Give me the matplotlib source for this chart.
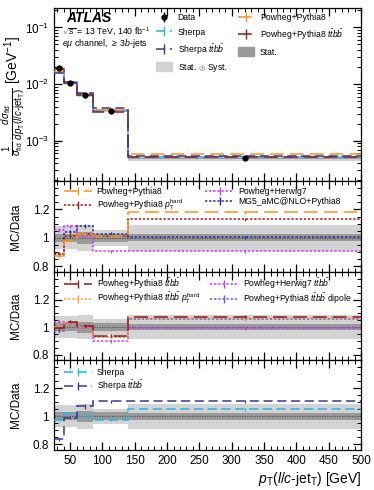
import numpy as np
import matplotlib
matplotlib.use('Agg')
import matplotlib.pyplot as plt
from matplotlib.lines import Line2D
from matplotlib.patches import Patch
from matplotlib.legend_handler import HandlerTuple
from matplotlib.ticker import MultipleLocator, LogLocator, NullFormatter

plt.rcParams.update({
    'font.family': 'Liberation Sans',
    'mathtext.fontset': 'custom',
    'mathtext.rm': 'Liberation Sans',
    'mathtext.it': 'Liberation Sans:italic',
    'mathtext.bf': 'Liberation Sans:bold',
    'font.size': 8,
    'axes.linewidth': 0.9,
})

# ---- data ----
edges = [25, 40, 60, 85, 140, 500]
data = [0.0190, 0.0106, 0.0065, 0.0034, 0.00049]
stat_rel = [0.03, 0.03, 0.04, 0.03, 0.025]
tot_rel = [0.08, 0.08, 0.09, 0.055, 0.09]

# MC/Data ratios
pp8 = [0.87, 0.98, 1.03, 1.01, 1.18]
pp8_hard = [0.89, 1.01, 1.03, 1.01, 1.13]
ph7 = [1.055, 1.08, 1.01, 0.905, 0.905]
mg5 = [0.89, 1.04, 1.085, 1.03, 1.005]

pp8_ttbb = [0.99, 1.04, 1.005, 0.935, 1.075]
pp8_ttbb_hard = [1.00, 1.03, 1.00, 0.93, 1.065]
ph7_ttbb = [1.04, 1.03, 1.00, 0.895, 0.99]
pp8_ttbb_dip = [0.97, 1.03, 1.01, 0.93, 1.06]

sherpa = [0.975, 1.02, 1.005, 0.975, 1.05]
sherpa_ttbb = [0.835, 0.99, 1.07, 1.105, 1.105]

mc_err = [0.012, 0.012, 0.014, 0.012, 0.01]

C_ORANGE = '#f7941d'
C_DRED = '#8b1a1a'
C_DRED2 = '#9b1b1b'
C_MAG = '#cc33ff'
C_NAVY = '#2b2b9c'
C_LBLUE = '#22b5ee'
C_SLATE = '#3f3593'
C_DIP = '#6a5acd'
C_ORANGE2 = '#ffa033'
C_LIGHT = '#d3d3d3'
C_DARK = '#9a9a9a'

LONG = (0, (9, 4))
DASH = (0, (6, 3))
DOT = (0, (1.5, 1.2))

edges_a = np.array(edges, float)
centers = 0.5 * (edges_a[:-1] + edges_a[1:])
data_a = np.array(data)
stat_a = np.array(stat_rel)
tot_a = np.array(tot_rel)

W, H = 374, 490
fig = plt.figure(figsize=(W / 100, H / 100), dpi=100)


def px_axes(top, bottom, left=54, right=361):
    return fig.add_axes([left / W, (H - bottom) / H, (right - left) / W, (bottom - top) / H])


ax0 = px_axes(8, 181)
ax1 = px_axes(181, 272)
ax2 = px_axes(272, 360)
ax3 = px_axes(360, 450)

TUP = {tuple: HandlerTuple(ndivide=1, pad=0)}


def mc_line(ax, vals, color, ls, lw=1.1, scale=None):
    v = np.array(vals)
    if scale is not None:
        v = v * scale
    ax.stairs(v, edges_a, baseline=None, color=color, linestyle=ls, linewidth=lw, zorder=3)
    err = np.array(mc_err) * v
    ax.errorbar(centers, v, yerr=err, fmt='none', ecolor=color, elinewidth=0.9, zorder=3)


def handle(color, ls, ms=6):
    return (Line2D([], [], color=color, linestyle=ls, linewidth=1.1),
            Line2D([], [], color=color, marker='|', markersize=ms, linestyle='none'))


# ---- main panel ----
ax0.set_yscale('log')
ax0.stairs(data_a * (1 + tot_a), edges_a, baseline=data_a * (1 - tot_a), fill=True,
           color=C_LIGHT, linewidth=0, zorder=1)
ax0.stairs(data_a * (1 + stat_a), edges_a, baseline=data_a * (1 - stat_a), fill=True,
           color=C_DARK, linewidth=0, zorder=2)
mc_line(ax0, pp8, C_ORANGE, LONG, scale=data_a)
mc_line(ax0, sherpa, C_LBLUE, DASH, scale=data_a)
mc_line(ax0, pp8_ttbb, C_DRED, LONG, scale=data_a)
mc_line(ax0, sherpa_ttbb, C_SLATE, DASH, scale=data_a)
ax0.errorbar(centers, data_a, yerr=data_a * stat_a, fmt='o', color='black',
             markersize=3.5, elinewidth=1, zorder=5)
ax0.set_ylim(1.95e-4, 0.22)
ax0.yaxis.set_major_locator(LogLocator(base=10, numticks=10))
ax0.yaxis.set_minor_locator(LogLocator(base=10, subs=np.arange(2, 10), numticks=10))
ax0.yaxis.set_minor_formatter(NullFormatter())
fig.text(13 / W, 1 - 96 / H,
         r'$\frac{1}{\sigma_{\rm fid}}\,\frac{d\sigma_{\rm fid}}{dp_{\rm T}(l/c\mathrm{\text{-}jet}_{\rm T})}$ [GeV$^{-1}$]',
         rotation=90, ha='center', va='center', fontsize=10)

fig.text(66 / W, 1 - 22 / H, 'ATLAS', fontsize=10, fontweight='bold', fontstyle='italic')
fig.text(62 / W, 1 - 35 / H, r'$\sqrt{s}$ = 13 TeV, 140 fb$^{-1}$', fontsize=6.3)
fig.text(62 / W, 1 - 46 / H, r'$e\mu$ channel, $\geq$ 3$b$-jets', fontsize=6.3)

h_data = (Line2D([], [], color='black', marker='o', markersize=3.5, linestyle='none'),
          Line2D([], [], color='black', marker='|', markersize=7, linestyle='none'))
main_handles = [h_data, handle(C_LBLUE, DASH, 7), handle(C_SLATE, DASH, 7),
                Patch(color=C_LIGHT), handle(C_ORANGE, LONG, 7), handle(C_DRED, LONG, 7),
                Patch(color=C_DARK)]
main_labels = ['Data', 'Sherpa', r'Sherpa $t\bar{t}b\bar{b}$', r'Stat. $\oplus$ Syst.',
               'Powheg+Pythia8', r'Powheg+Pythia8 $t\bar{t}b\bar{b}$', 'Stat.']
ax0.legend(main_handles, main_labels, ncol=2, frameon=False, fontsize=6.2,
           loc='upper left', bbox_to_anchor=(156 / W, 1 - 13 / H), bbox_transform=fig.transFigure,
           borderpad=0, borderaxespad=0, handlelength=1.8, handleheight=1.2, handletextpad=0.7,
           columnspacing=1.3, labelspacing=0.6, handler_map=TUP)


# ---- ratio panels ----
def ratio_base(ax):
    ax.stairs(1 + tot_a, edges_a, baseline=1 - tot_a, fill=True, color=C_LIGHT, linewidth=0, zorder=1)
    ax.stairs(1 + stat_a, edges_a, baseline=1 - stat_a, fill=True, color=C_DARK, linewidth=0, zorder=2)
    ax.axhline(1, color='#555555', linestyle=(0, (1, 1)), linewidth=0.9, zorder=2.5)
    ax.set_ylim(0.76, 1.4)
    ax.set_yticks([0.8, 1.0, 1.2])
    ax.set_yticklabels(['0.8', '1', '1.2'])
    ax.yaxis.set_minor_locator(MultipleLocator(0.05))
    ax.set_ylabel('MC/Data', fontsize=8.5)


ratio_base(ax1)
mc_line(ax1, ph7, C_MAG, DOT)
mc_line(ax1, mg5, C_NAVY, DOT)
mc_line(ax1, pp8_hard, C_DRED2, DOT)
mc_line(ax1, pp8, C_ORANGE, LONG)
ax1.legend([handle(C_ORANGE, LONG), handle(C_DRED2, DOT), handle(C_MAG, DOT), handle(C_NAVY, DOT)],
           ['Powheg+Pythia8', r'Powheg+Pythia8 $p_{\rm T}^{\rm hard}$', 'Powheg+Herwig7',
            'MG5_aMC@NLO+Pythia8'],
           ncol=2, frameon=False, fontsize=6.2, loc='upper left',
           bbox_to_anchor=(64 / W, 1 - 187 / H), bbox_transform=fig.transFigure,
           borderpad=0, borderaxespad=0, handlelength=3.3, handletextpad=0.5,
           columnspacing=2.6, labelspacing=0.15, handler_map=TUP)

ratio_base(ax2)
mc_line(ax2, ph7_ttbb, C_MAG, DOT)
mc_line(ax2, pp8_ttbb_dip, C_DIP, DOT)
mc_line(ax2, pp8_ttbb_hard, C_ORANGE2, DOT)
mc_line(ax2, pp8_ttbb, C_DRED, LONG)
ax2.legend([handle(C_DRED, LONG), handle(C_ORANGE2, DOT), handle(C_MAG, DOT), handle(C_DIP, DOT)],
           [r'Powheg+Pythia8 $t\bar{t}b\bar{b}$', r'Powheg+Pythia8 $t\bar{t}b\bar{b}$ $p_{\rm T}^{\rm hard}$',
            r'Powheg+Herwig7 $t\bar{t}b\bar{b}$', r'Powheg+Pythia8 $t\bar{t}b\bar{b}$ dipole'],
           ncol=2, frameon=False, fontsize=6.2, loc='upper left',
           bbox_to_anchor=(64 / W, 1 - 276 / H), bbox_transform=fig.transFigure,
           borderpad=0, borderaxespad=0, handlelength=3.3, handletextpad=0.5,
           columnspacing=1.2, labelspacing=0.05, handler_map=TUP)

ratio_base(ax3)
mc_line(ax3, sherpa, C_LBLUE, DASH)
mc_line(ax3, sherpa_ttbb, C_SLATE, DASH)
ax3.legend([handle(C_LBLUE, DASH), handle(C_SLATE, DASH)],
           ['Sherpa', r'Sherpa $t\bar{t}b\bar{b}$'],
           ncol=1, frameon=False, fontsize=6.2, loc='upper left',
           bbox_to_anchor=(64 / W, 1 - 368 / H), bbox_transform=fig.transFigure,
           borderpad=0, borderaxespad=0, handlelength=3.3, handletextpad=0.5,
           labelspacing=0.15, handler_map=TUP)

for ax in (ax0, ax1, ax2, ax3):
    ax.set_xlim(25, 500)
    ax.xaxis.set_major_locator(MultipleLocator(50))
    ax.xaxis.set_minor_locator(MultipleLocator(10))
    ax.tick_params(which='both', direction='in', top=True, right=True, labelsize=8.5)
    ax.tick_params(which='major', length=6, width=0.9)
    ax.tick_params(which='minor', length=3, width=0.7)
    if ax is not ax3:
        ax.tick_params(labelbottom=False)

for ax in (ax1, ax2, ax3):
    ax.yaxis.set_label_coords(-0.105, 0.5)

ax3.set_xlabel(r'$p_{\rm T}(l/c\mathrm{\text{-}jet}_{\rm T})$ [GeV]', fontsize=10, loc='right', labelpad=2)

fig.savefig('out.png', dpi=100)
